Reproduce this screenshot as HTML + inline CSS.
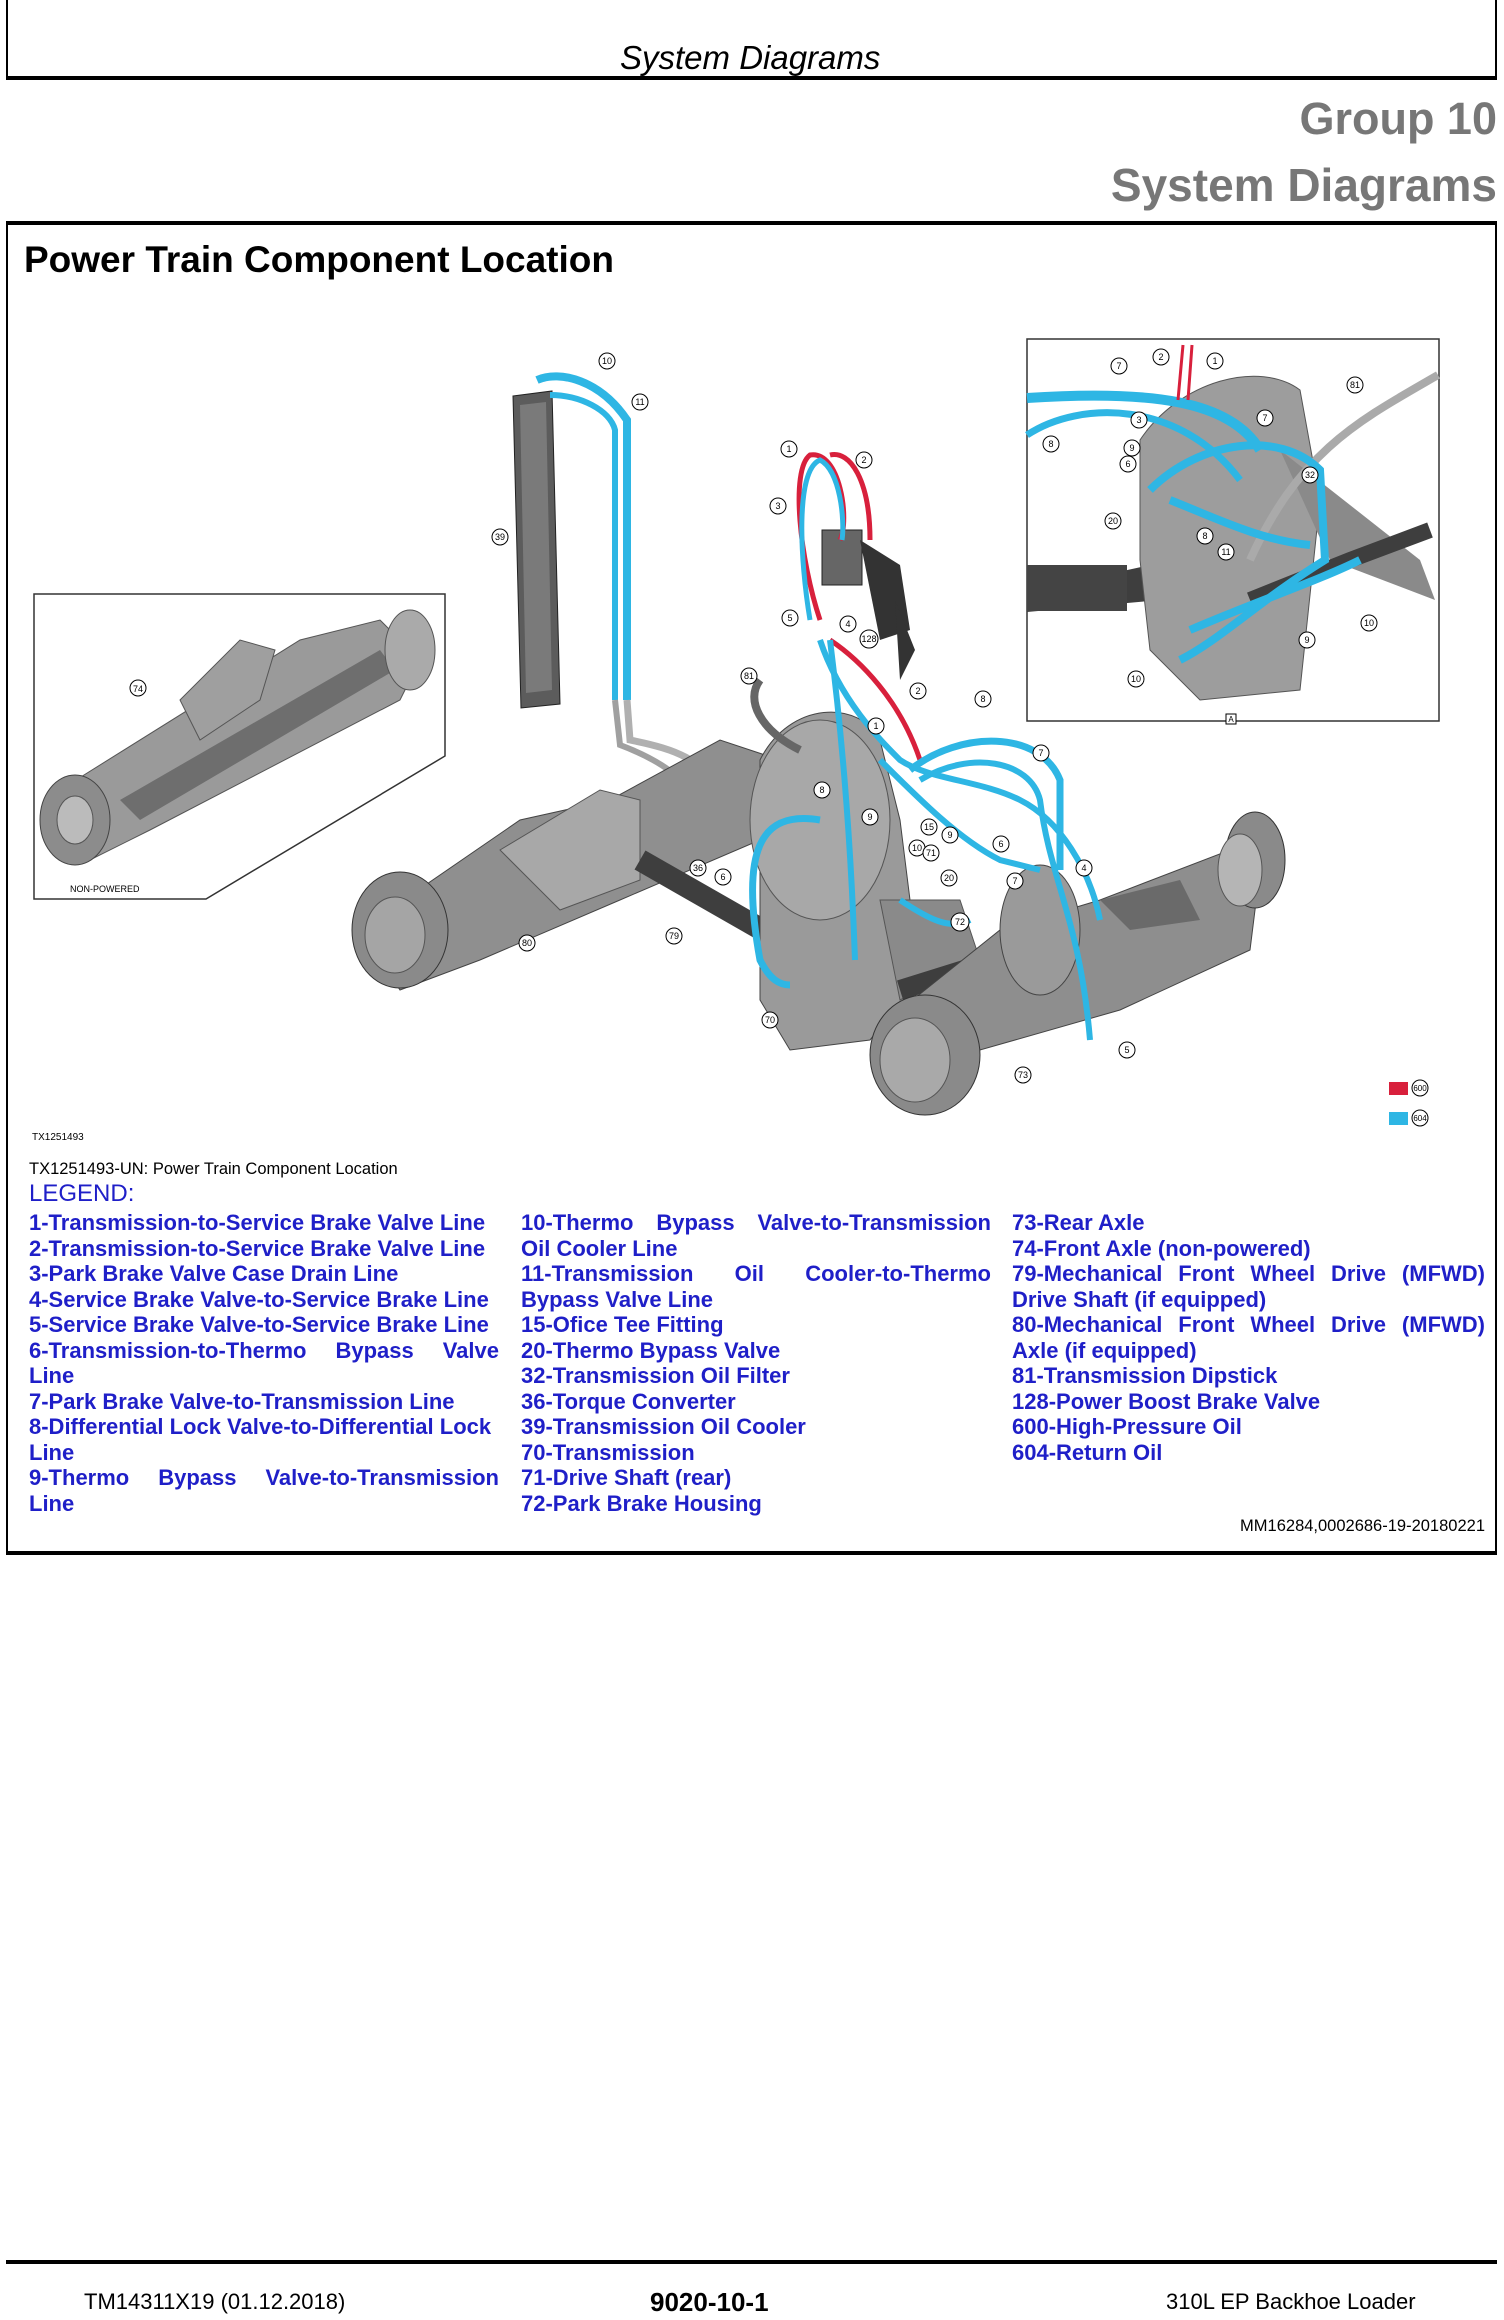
<!DOCTYPE html>
<html><head><meta charset="utf-8">
<style>
*{margin:0;padding:0;box-sizing:border-box}
body{width:1504px;height:2320px;background:#fff;position:relative;font-family:"Liberation Sans",Arial,sans-serif;overflow:hidden}
.a{position:absolute;white-space:nowrap}
.leg{position:absolute;top:1210px;font-size:22px;font-weight:bold;color:#1f1fc8;line-height:25.5px}
.leg div{white-space:nowrap}
.leg .j{text-align:justify;text-align-last:justify;white-space:normal}
</style></head><body>
<div style="position:absolute;left:6px;top:-4px;width:1491px;height:84px;border:2px solid #000;border-bottom:4px solid #000"></div>
<div class="a" style="left:620px;top:39px;font-size:33px;font-style:italic">System Diagrams</div>
<div class="a" style="right:7px;top:93px;font-size:45px;font-weight:bold;color:#777">Group 10</div>
<div class="a" style="right:7px;top:158px;font-size:46px;font-weight:bold;color:#777">System Diagrams</div>
<div style="position:absolute;left:6px;top:221px;width:1491px;height:1334px;border:2px solid #000;border-top:4px solid #000;border-bottom:4px solid #000"></div>
<div class="a" style="left:24px;top:239px;font-size:37px;font-weight:bold">Power Train Component Location</div>

<svg style="position:absolute;left:0;top:0" width="1504" height="1160" viewBox="0 0 1504 1160">
<g font-family="Liberation Sans,Arial,sans-serif" font-size="12" text-anchor="middle">
<polygon points="34,594 445,594 445,756 206,899 34,899" fill="#fff" stroke="#333" stroke-width="1.5"/>
<path d="M60,790 L300,640 L380,620 L420,660 L400,700 L150,830 L90,860 Z" fill="#9a9a9a" stroke="#555"/>
<path d="M120,800 L380,650 L395,670 L140,820 Z" fill="#6e6e6e"/>
<ellipse cx="75" cy="820" rx="35" ry="45" fill="#8c8c8c" stroke="#444"/>
<ellipse cx="75" cy="820" rx="18" ry="24" fill="#bbb" stroke="#555"/>
<ellipse cx="410" cy="650" rx="25" ry="40" fill="#aaa" stroke="#555"/>
<path d="M180,700 L240,640 L275,650 L260,700 L200,740 Z" fill="#9f9f9f" stroke="#555"/>
<text x="70" y="892" font-size="9" text-anchor="start">NON-POWERED</text>
<circle cx="138" cy="688" r="8" fill="#fff" stroke="#000"/><text x="138" y="692" font-size="9">74</text>
<polygon points="513,396 552,391 560,704 521,708" fill="#5c5c5c" stroke="#222"/>
<polygon points="520,405 546,402 552,690 526,693" fill="#7a7a7a"/>
<path d="M537,380 C560,370 600,380 627,420 L627,700" fill="none" stroke="#2eb6e4" stroke-width="8"/>
<path d="M550,395 C580,395 610,410 615,430 L615,700" fill="none" stroke="#2eb6e4" stroke-width="6"/>
<path d="M627,700 L630,740 C680,750 700,760 720,790 L760,800" fill="none" stroke="#b0b0b0" stroke-width="7"/>
<path d="M615,700 L620,745 C660,760 690,780 700,810 L740,820" fill="none" stroke="#a0a0a0" stroke-width="6"/>
<path d="M360,930 L520,820 L610,800 L720,740 L780,760 L760,840 L620,900 L480,960 L400,990 Z" fill="#8f8f8f" stroke="#444"/>
<path d="M500,850 L600,790 L640,800 L640,880 L560,910 Z" fill="#a8a8a8" stroke="#555"/>
<ellipse cx="400" cy="930" rx="48" ry="58" fill="#8a8a8a" stroke="#333"/>
<ellipse cx="395" cy="935" rx="30" ry="38" fill="#a5a5a5" stroke="#555"/>
<path d="M640,860 L780,940" stroke="#3e3e3e" stroke-width="22"/>
<path d="M760,760 C790,700 860,700 880,740 L900,820 L920,980 L870,1040 L790,1050 L760,1000 Z" fill="#9a9a9a" stroke="#444"/>
<ellipse cx="820" cy="820" rx="70" ry="100" fill="#a8a8a8" stroke="#555"/>
<path d="M880,900 L960,900 L980,960 L900,1000 Z" fill="#8a8a8a" stroke="#555"/>
<path d="M900,990 L1060,940" stroke="#3e3e3e" stroke-width="20"/>
<path d="M900,1010 L1000,930 L1100,900 L1230,850 L1260,870 L1250,950 L1120,1010 L980,1050 Z" fill="#8e8e8e" stroke="#444"/>
<path d="M1100,900 L1130,930 L1200,920 L1180,880 Z" fill="#6a6a6a"/>
<ellipse cx="1040" cy="930" rx="40" ry="65" fill="#9a9a9a" stroke="#444"/>
<ellipse cx="1255" cy="860" rx="30" ry="48" fill="#8a8a8a" stroke="#333"/>
<ellipse cx="1240" cy="870" rx="22" ry="36" fill="#b5b5b5" stroke="#555"/>
<ellipse cx="925" cy="1055" rx="55" ry="60" fill="#8a8a8a" stroke="#333"/>
<ellipse cx="915" cy="1060" rx="35" ry="42" fill="#a9a9a9" stroke="#555"/>
<path d="M760,680 C745,700 760,730 800,750" fill="none" stroke="#666" stroke-width="8"/>
<rect x="822" y="530" width="40" height="55" fill="#666" stroke="#222"/>
<path d="M860,540 L900,565 L910,630 L880,640 Z" fill="#333"/>
<path d="M895,600 L915,650 L900,680 Z" fill="#333"/>
<path d="M820,620 C800,560 790,470 810,455 C840,450 850,520 840,540" fill="none" stroke="#d8203c" stroke-width="5"/>
<path d="M870,540 C870,480 850,450 830,455" fill="none" stroke="#d8203c" stroke-width="5"/>
<path d="M830,640 C860,660 900,700 920,760" fill="none" stroke="#d8203c" stroke-width="5"/>
<path d="M810,620 C800,560 795,470 820,460 C840,470 845,520 842,540" fill="none" stroke="#2eb6e4" stroke-width="5"/>
<path d="M820,640 C840,700 880,740 900,760 C930,780 980,780 1020,800 C1060,820 1090,870 1100,920" fill="none" stroke="#2eb6e4" stroke-width="6"/>
<path d="M830,640 C840,720 850,820 855,960" fill="none" stroke="#2eb6e4" stroke-width="6"/>
<path d="M910,770 C960,730 1040,730 1060,780 L1060,870" fill="none" stroke="#2eb6e4" stroke-width="7"/>
<path d="M920,780 C970,750 1030,760 1040,800 C1050,880 1080,920 1090,1040" fill="none" stroke="#2eb6e4" stroke-width="6"/>
<path d="M820,820 C760,810 740,850 760,960 C770,980 780,985 790,985" fill="none" stroke="#2eb6e4" stroke-width="7"/>
<path d="M880,760 C920,800 960,840 1000,860 L1040,870" fill="none" stroke="#2eb6e4" stroke-width="6"/>
<path d="M900,900 C930,920 950,930 970,920" fill="none" stroke="#2eb6e4" stroke-width="6"/>
<rect x="1027" y="339" width="412" height="382" fill="#fff" stroke="#333" stroke-width="1.5"/>
<path d="M1027,592 L1150,565 L1160,600 L1027,612 Z" fill="#3e3e3e"/>
<rect x="1027" y="565" width="100" height="46" fill="#444"/>
<path d="M1140,440 C1180,380 1260,360 1300,390 L1320,500 L1300,690 L1200,700 L1150,650 L1140,560 Z" fill="#9d9d9d" stroke="#555"/>
<path d="M1280,450 L1420,560 L1435,600 L1330,560 Z" fill="#8a8a8a"/>
<path d="M1250,600 L1350,560 L1430,530" stroke="#3e3e3e" stroke-width="16"/>
<path d="M1250,560 C1300,450 1360,420 1438,375" fill="none" stroke="#aaa" stroke-width="8"/>
<path d="M1027,398 C1150,390 1230,400 1260,450" fill="none" stroke="#2eb6e4" stroke-width="10"/>
<path d="M1027,435 C1080,400 1180,400 1240,480" fill="none" stroke="#2eb6e4" stroke-width="7"/>
<path d="M1150,490 C1200,440 1280,430 1320,470 L1325,560 C1260,600 1220,640 1180,660" fill="none" stroke="#2eb6e4" stroke-width="8"/>
<path d="M1170,500 C1220,520 1260,540 1310,545" fill="none" stroke="#2eb6e4" stroke-width="8"/>
<path d="M1190,630 C1260,600 1320,580 1360,560" fill="none" stroke="#2eb6e4" stroke-width="8"/>
<path d="M1183,345 L1178,400 M1192,345 L1188,400" stroke="#d8203c" stroke-width="3"/>
<rect x="1226" y="714" width="10" height="10" fill="#fff" stroke="#000"/><text x="1231" y="722" font-size="8">A</text>
<g fill="#fff" stroke="#000" stroke-width="1">
<circle cx="607" cy="361" r="8"/><circle cx="640" cy="402" r="8"/><circle cx="500" cy="537" r="8"/>
<circle cx="789" cy="449" r="8"/><circle cx="864" cy="460" r="8"/><circle cx="778" cy="506" r="8"/>
<circle cx="790" cy="618" r="8"/><circle cx="848" cy="624" r="8"/><circle cx="869" cy="639" r="9"/>
<circle cx="749" cy="676" r="8"/><circle cx="918" cy="691" r="8"/><circle cx="983" cy="699" r="8"/>
<circle cx="876" cy="726" r="8"/><circle cx="1041" cy="753" r="8"/><circle cx="822" cy="790" r="8"/>
<circle cx="870" cy="817" r="8"/><circle cx="929" cy="827" r="8"/><circle cx="950" cy="835" r="8"/>
<circle cx="917" cy="848" r="8"/><circle cx="931" cy="853" r="8"/><circle cx="1001" cy="844" r="8"/>
<circle cx="949" cy="878" r="8"/><circle cx="1084" cy="868" r="8"/><circle cx="1015" cy="881" r="8"/>
<circle cx="698" cy="868" r="8"/><circle cx="723" cy="877" r="8"/><circle cx="960" cy="922" r="9"/>
<circle cx="674" cy="936" r="8"/><circle cx="527" cy="943" r="8"/><circle cx="770" cy="1020" r="8"/>
<circle cx="1127" cy="1050" r="8"/><circle cx="1023" cy="1075" r="8"/>
<circle cx="1119" cy="366" r="8"/><circle cx="1161" cy="357" r="8"/><circle cx="1215" cy="361" r="8"/>
<circle cx="1051" cy="444" r="8"/><circle cx="1139" cy="420" r="8"/><circle cx="1132" cy="448" r="8"/>
<circle cx="1128" cy="464" r="8"/><circle cx="1113" cy="521" r="8"/><circle cx="1205" cy="536" r="8"/>
<circle cx="1226" cy="552" r="8"/><circle cx="1355" cy="385" r="8"/><circle cx="1310" cy="475" r="8"/>
<circle cx="1307" cy="640" r="8"/><circle cx="1369" cy="623" r="8"/><circle cx="1136" cy="679" r="8"/>
<circle cx="1265" cy="418" r="8"/>
</g>
<g font-size="9">
<text x="607" y="364">10</text><text x="640" y="405">11</text><text x="500" y="540">39</text>
<text x="789" y="452">1</text><text x="864" y="463">2</text><text x="778" y="509">3</text>
<text x="790" y="621">5</text><text x="848" y="627">4</text><text x="869" y="642">128</text>
<text x="749" y="679">81</text><text x="918" y="694">2</text><text x="983" y="702">8</text>
<text x="876" y="729">1</text><text x="1041" y="756">7</text><text x="822" y="793">8</text>
<text x="870" y="820">9</text><text x="929" y="830">15</text><text x="950" y="838">9</text>
<text x="917" y="851">10</text><text x="931" y="856">71</text><text x="1001" y="847">6</text>
<text x="949" y="881">20</text><text x="1084" y="871">4</text><text x="1015" y="884">7</text>
<text x="698" y="871">36</text><text x="723" y="880">6</text><text x="960" y="925">72</text>
<text x="674" y="939">79</text><text x="527" y="946">80</text><text x="770" y="1023">70</text>
<text x="1127" y="1053">5</text><text x="1023" y="1078">73</text>
<text x="1119" y="369">7</text><text x="1161" y="360">2</text><text x="1215" y="364">1</text>
<text x="1051" y="447">8</text><text x="1139" y="423">3</text><text x="1132" y="451">9</text>
<text x="1128" y="467">6</text><text x="1113" y="524">20</text><text x="1205" y="539">8</text>
<text x="1226" y="555">11</text><text x="1355" y="388">81</text><text x="1310" y="478">32</text>
<text x="1307" y="643">9</text><text x="1369" y="626">10</text><text x="1136" y="682">10</text>
<text x="1265" y="421">7</text>
</g>
<rect x="1389" y="1082" width="19" height="13" fill="#d8203c"/>
<rect x="1389" y="1112" width="19" height="13" fill="#2eb6e4"/>
<circle cx="1420" cy="1088" r="8" fill="#fff" stroke="#000"/><text x="1420" y="1091" font-size="8">600</text>
<circle cx="1420" cy="1118" r="8" fill="#fff" stroke="#000"/><text x="1420" y="1121" font-size="8">604</text>
</g>
</svg>

<div class="a" style="left:32px;top:1132px;font-size:10px">TX1251493</div>
<div class="a" style="left:29px;top:1160px;font-size:16.5px">TX1251493-UN: Power Train Component Location</div>
<div class="a" style="left:29px;top:1180px;font-size:24px;color:#1f1fc8">LEGEND:</div>

<div class="leg" style="left:29px;width:470px">
<div>1-Transmission-to-Service Brake Valve Line</div>
<div>2-Transmission-to-Service Brake Valve Line</div>
<div>3-Park Brake Valve Case Drain Line</div>
<div>4-Service Brake Valve-to-Service Brake Line</div>
<div>5-Service Brake Valve-to-Service Brake Line</div>
<div class="j">6-Transmission-to-Thermo Bypass Valve</div>
<div>Line</div>
<div>7-Park Brake Valve-to-Transmission Line</div>
<div>8-Differential Lock Valve-to-Differential Lock</div>
<div>Line</div>
<div class="j">9-Thermo Bypass Valve-to-Transmission</div>
<div>Line</div>
</div>
<div class="leg" style="left:521px;width:470px">
<div class="j">10-Thermo Bypass Valve-to-Transmission</div>
<div>Oil Cooler Line</div>
<div class="j">11-Transmission Oil Cooler-to-Thermo</div>
<div>Bypass Valve Line</div>
<div>15-Ofice Tee Fitting</div>
<div>20-Thermo Bypass Valve</div>
<div>32-Transmission Oil Filter</div>
<div>36-Torque Converter</div>
<div>39-Transmission Oil Cooler</div>
<div>70-Transmission</div>
<div>71-Drive Shaft (rear)</div>
<div>72-Park Brake Housing</div>
</div>
<div class="leg" style="left:1012px;width:473px">
<div>73-Rear Axle</div>
<div>74-Front Axle (non-powered)</div>
<div class="j">79-Mechanical Front Wheel Drive (MFWD)</div>
<div>Drive Shaft (if equipped)</div>
<div class="j">80-Mechanical Front Wheel Drive (MFWD)</div>
<div>Axle (if equipped)</div>
<div>81-Transmission Dipstick</div>
<div>128-Power Boost Brake Valve</div>
<div>600-High-Pressure Oil</div>
<div>604-Return Oil</div>
</div>
<div class="a" style="right:19px;top:1517px;font-size:16.5px">MM16284,0002686-19-20180221</div>

<div style="position:absolute;left:6px;top:2260px;width:1491px;height:4px;background:#000"></div>
<div class="a" style="left:84px;top:2289px;font-size:22px">TM14311X19 (01.12.2018)</div>
<div class="a" style="left:650px;top:2287px;font-size:26px;font-weight:bold">9020-10-1</div>
<div class="a" style="left:1166px;top:2289px;font-size:22px">310L EP Backhoe Loader</div>
</body></html>
